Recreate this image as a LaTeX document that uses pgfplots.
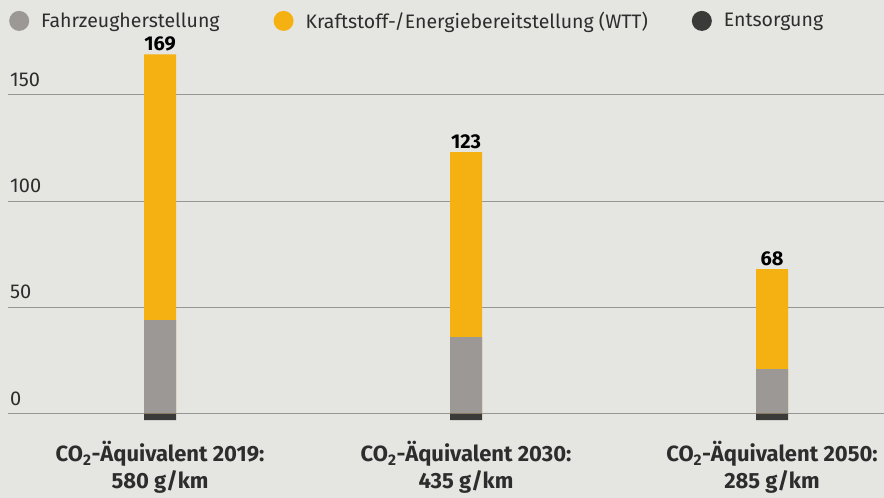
\documentclass[border=0pt]{standalone}
\usepackage{fontspec}
\setmainfont{Fira Sans}
\usepackage{pgfplots}
\pgfplotsset{compat=1.18}
\definecolor{bg}{RGB}{229,229,226}
\definecolor{wtt}{RGB}{245,177,18}
\definecolor{fzg}{RGB}{155,152,150}
\definecolor{ents}{RGB}{58,58,56}
\definecolor{gridc}{RGB}{150,150,150}
\definecolor{txt}{RGB}{45,45,45}
\begin{document}
\begin{tikzpicture}
\useasboundingbox[fill=bg] (0,0) rectangle (884pt,498pt);
\begin{axis}[
  at={(8pt,63pt)}, anchor=south west,
  scale only axis, width=876pt, height=404.1pt,
  xmin=-0.497, xmax=2.366, ymin=-10, ymax=180,
  /pgf/number format/assume math mode=true,
  axis line style={draw=none},
  ymajorgrids, grid style={gridc, line width=0.8pt},
  ytick={0,50,100,150}, major tick length=0pt,
  yticklabel style={anchor=south west, inner sep=0pt, xshift=2pt, yshift=8pt,
    font=\fontsize{20}{20}\selectfont, text=txt},
  xtick={0,1,2},
  xticklabels={{CO\textsubscript{2}-Äquivalent 2019:\\580 g/km},
                {CO\textsubscript{2}-Äquivalent 2030:\\435 g/km},
                {CO\textsubscript{2}-Äquivalent 2050:\\285 g/km}},
  xticklabel style={align=center, font=\fontsize{22}{27}\selectfont\bfseries,
    text=txt, anchor=north, yshift=-3pt},
  ybar, bar width=32pt, bar shift=0pt,
  legend style={at={(rel axis cs:0,1)}, anchor=west, xshift=1pt, yshift=10pt,
    draw=none, fill=none, inner sep=0pt, legend columns=3,
    nodes={inner sep=0pt},
    font=\fontsize{19.5}{20}\selectfont, text=txt,
    /tikz/every odd column/.append style={column sep=12pt},
    /tikz/column 2/.style={column sep=54pt},
    /tikz/column 4/.style={column sep=44pt}},
  legend cell align=left,
  legend image code/.code={\fill (10pt,0pt) circle (10pt);},
]
\addlegendimage{fill=fzg, draw=none}
\addlegendentry{Fahrzeugherstellung}
\addlegendimage{fill=wtt, draw=none}
\addlegendentry{Kraftstoff-/Energiebereitstellung (WTT)}
\addlegendimage{fill=ents, draw=none}
\addlegendentry{Entsorgung}
% total (WTT on top)
\addplot[fill=wtt, draw=none, forget plot, nodes near coords,
  nodes near coords style={font=\fontsize{20}{20}\selectfont\bfseries, text=black, inner sep=3pt}]
  coordinates {(0,169) (1,123) (2,68)};
% Fahrzeugherstellung
\addplot[fill=fzg, draw=none, forget plot] coordinates {(0,44) (1,36) (2,21)};
% Entsorgung
\addplot[fill=ents, draw=none, forget plot] coordinates {(0,-3) (1,-3) (2,-3)};
\end{axis}
\end{tikzpicture}
\end{document}
